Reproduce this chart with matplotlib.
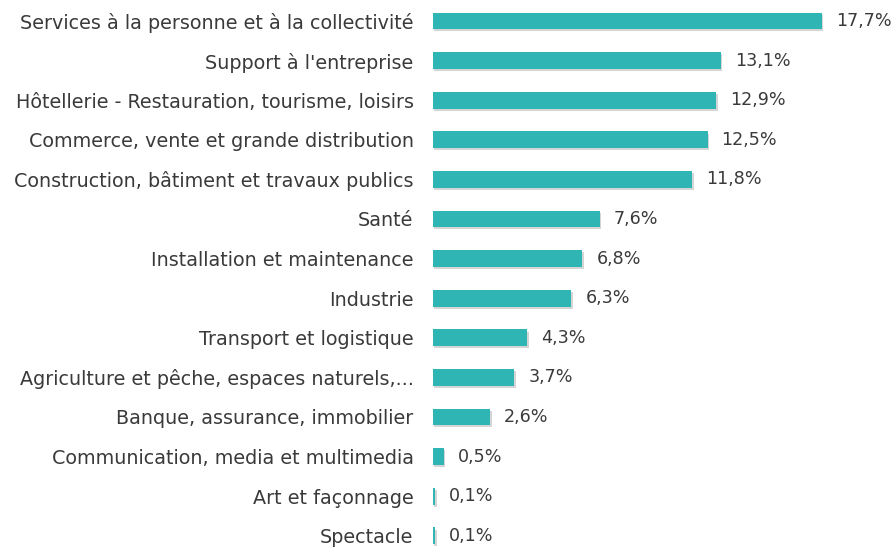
import matplotlib
matplotlib.use("Agg")
import matplotlib.pyplot as plt
import matplotlib.patheffects as pe

categories = [
    "Services à la personne et à la collectivité",
    "Support à l'entreprise",
    "Hôtellerie - Restauration, tourisme, loisirs",
    "Commerce, vente et grande distribution",
    "Construction, bâtiment et travaux publics",
    "Santé",
    "Installation et maintenance",
    "Industrie",
    "Transport et logistique",
    "Agriculture et pêche, espaces naturels,...",
    "Banque, assurance, immobilier",
    "Communication, media et multimedia",
    "Art et façonnage",
    "Spectacle",
]
values = [17.7, 13.1, 12.9, 12.5, 11.8, 7.6, 6.8, 6.3, 4.3, 3.7, 2.6, 0.5, 0.1, 0.1]
value_labels = ["17,7%", "13,1%", "12,9%", "12,5%", "11,8%", "7,6%", "6,8%", "6,3%",
                "4,3%", "3,7%", "2,6%", "0,5%", "0,1%", "0,1%"]

W, H = 893, 548
fig = plt.figure(figsize=(W / 100, H / 100), dpi=100)
x0 = 433 / W
xw = (20 * 21.97) / W
ax = fig.add_axes([x0, 0, xw, 1])

color = "#2fb5b3"
ypos = list(range(len(categories)))
bars = ax.barh(ypos, values, height=0.42, color=color)
for b in bars:
    b.set_path_effects([pe.SimplePatchShadow(offset=(1, -1.5), shadow_rgbFace="#888888", alpha=0.35),
                        pe.Normal()])

ax.set_xlim(0, 20)
ax.set_ylim((H - 21) / 39.6, -21 / 39.6)

for y, v, lab in zip(ypos, values, value_labels):
    ax.annotate(lab, (v, y), xytext=(10, 0), textcoords="offset points",
                va="center", ha="left", fontsize=12.6, color="#3a3a3a", family="DejaVu Sans")

ax.set_yticks(ypos)
ax.set_yticklabels(categories, fontsize=13.8, color="#3a3a3a", family="DejaVu Sans")
ax.tick_params(axis="y", length=0, pad=14)
ax.set_xticks([])
for s in ax.spines.values():
    s.set_visible(False)
ax.patch.set_alpha(0)

fig.savefig("out.png", dpi=100)
